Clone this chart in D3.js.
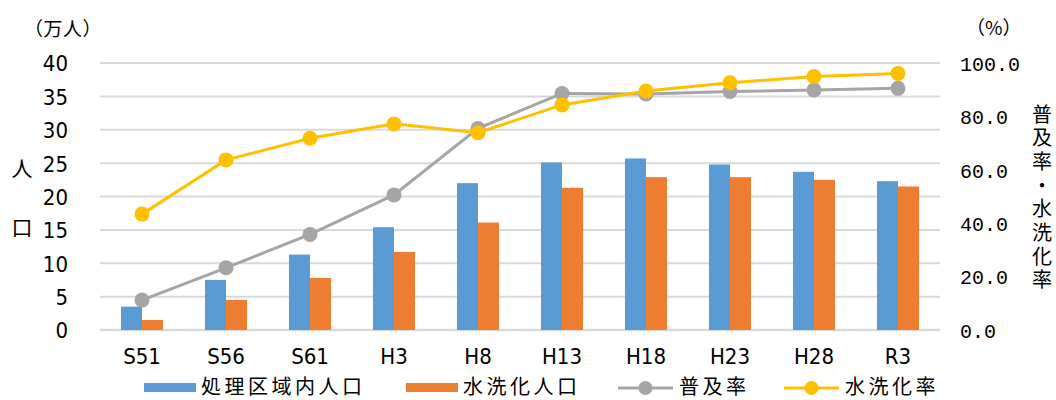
<!DOCTYPE html>
<html>
<head>
<meta charset="utf-8">
<script src="https://cdn.jsdelivr.net/npm/d3@7"></script>
<style>
  body { margin: 0; background: #fff; }
  text { fill: #000; }
  .num { font-family: "Liberation Sans Narrow", "DejaVu Sans Condensed", sans-serif; font-size: 22px; }
  .mono { font-family: "Liberation Mono", "DejaVu Sans Mono", monospace; font-size: 20px; }
  .jp { font-family: "Noto Sans CJK JP", sans-serif; }
</style>
</head>
<body>
<script>
var years = ['S51', 'S56', 'S61', 'H3', 'H8', 'H13', 'H18', 'H23', 'H28', 'R3'];
var shoriPop = [3.5, 7.5, 11.3, 15.4, 22.0, 25.1, 25.7, 24.8, 23.7, 22.3];
var suisenPop = [1.5, 4.5, 7.8, 11.7, 16.1, 21.3, 22.9, 22.9, 22.5, 21.5];
var fukyuRate = [11.2, 23.3, 35.8, 50.6, 75.5, 88.6, 88.4, 89.3, 89.9, 90.5];
var suisenRate = [43.4, 63.7, 71.8, 77.2, 73.9, 84.3, 89.5, 92.6, 94.9, 96.1];
var leftTicks = [0, 5, 10, 15, 20, 25, 30, 35, 40];
var rightTicks = [0, 20, 40, 60, 80, 100];
var barNames = ['処理区域内人口', '水洗化人口'];
var lineNames = ['普及率', '水洗化率'];

var colors = { blue: '#5B9BD5', orange: '#ED7D31', gray: '#A5A5A5', yellow: '#FFC000' };

var W = 1056, H = 400;
var plotLeft = 100, plotRight = 940, plotTop = 63, plotBottom = 330;

var svg = d3.select('body').append('svg')
    .attr('width', W)
    .attr('height', H);

var xScale = d3.scaleBand()
    .domain(years)
    .range([plotLeft, plotRight])
    .paddingInner(0.5)
    .paddingOuter(0.25);

var subScale = d3.scaleBand()
    .domain([0, 1])
    .range([0, xScale.bandwidth()]);

var yLeft = d3.scaleLinear().domain([0, 40]).range([plotBottom, plotTop]);
var yRight = d3.scaleLinear().domain([0, 100]).range([plotBottom, plotTop]);

// gridlines
svg.append('g')
    .selectAll('line')
    .data(leftTicks)
    .enter()
    .append('line')
    .attr('x1', plotLeft)
    .attr('x2', plotRight)
    .attr('y1', function (d) { return yLeft(d); })
    .attr('y2', function (d) { return yLeft(d); })
    .attr('stroke', '#D9D9D9')
    .attr('stroke-width', function (d) { return d === 0 ? 2.5 : 2; });

// left axis
var yAxisL = d3.axisLeft(yLeft).tickValues(leftTicks).tickSize(0).tickPadding(0);
var gL = svg.append('g')
    .attr('transform', 'translate(68,0)')
    .call(yAxisL);
gL.select('.domain').remove();
gL.selectAll('text').attr('class', 'num').attr('dy', '0.36em');

// right axis
var yAxisR = d3.axisRight(yRight).tickValues(rightTicks).tickSize(0).tickPadding(0)
    .tickFormat(d3.format('.1f'));
var gR = svg.append('g')
    .attr('transform', 'translate(960,0)')
    .call(yAxisR);
gR.select('.domain').remove();
gR.selectAll('text').attr('class', 'mono').attr('dy', '0.36em');

// x axis labels
var xAxis = d3.axisBottom(xScale).tickSize(0).tickPadding(0);
var gX = svg.append('g')
    .attr('transform', 'translate(0,' + plotBottom + ')')
    .call(xAxis);
gX.select('.domain').remove();
gX.selectAll('text').attr('class', 'num').attr('y', 34).attr('dy', '0');

// bars
var barSeries = [shoriPop, suisenPop];
var barColors = [colors.blue, colors.orange];
barSeries.forEach(function (series, s) {
    svg.append('g')
        .selectAll('rect')
        .data(series)
        .enter()
        .append('rect')
        .attr('x', function (d, i) { return xScale(years[i]) + subScale(s); })
        .attr('y', function (d) { return yLeft(d); })
        .attr('width', subScale.bandwidth())
        .attr('height', function (d) { return yLeft(0) - yLeft(d); })
        .attr('fill', barColors[s]);
});

// lines
var lineSeries = [fukyuRate, suisenRate];
var lineColors = [colors.gray, colors.yellow];
var line = d3.line()
    .x(function (d, i) { return xScale(years[i]) + xScale.bandwidth() / 2; })
    .y(function (d) { return yRight(d); });

lineSeries.forEach(function (series, s) {
    svg.append('path')
        .datum(series)
        .attr('d', line)
        .attr('fill', 'none')
        .attr('stroke', lineColors[s])
        .attr('stroke-width', 3);
    svg.append('g')
        .selectAll('circle')
        .data(series)
        .enter()
        .append('circle')
        .attr('cx', function (d, i) { return xScale(years[i]) + xScale.bandwidth() / 2; })
        .attr('cy', function (d) { return yRight(d); })
        .attr('r', 7.5)
        .attr('fill', lineColors[s]);
});

// axis titles
svg.append('text').attr('class', 'jp').attr('font-size', 19)
    .attr('x', 24).attr('y', 36).attr('letter-spacing', 0.5).text('（万人）');
svg.append('text').attr('class', 'jp').attr('font-size', 19)
    .attr('x', 966).attr('y', 35).text('（%）');
['人', '口'].forEach(function (c, i) {
    svg.append('text').attr('class', 'jp').attr('font-size', 21)
        .attr('x', 22).attr('y', 169 + i * 59).attr('dy', '0.35em')
        .attr('text-anchor', 'middle').text(c);
});
svg.append('text').attr('class', 'jp').attr('font-size', 20)
    .attr('x', 1042).attr('y', 104)
    .style('writing-mode', 'vertical-rl')
    .style('text-orientation', 'upright')
    .attr('letter-spacing', 3.7)
    .text('普及率・水洗化率');

// legend
var legY = 387;
var legend = svg.append('g');
var barLegX = [144, 406];
barNames.forEach(function (name, i) {
    legend.append('rect')
        .attr('x', barLegX[i]).attr('y', legY - 4)
        .attr('width', 52).attr('height', 9)
        .attr('fill', barColors[i]);
    legend.append('text').attr('class', 'jp').attr('font-size', 20)
        .attr('x', barLegX[i] + 57).attr('y', legY).attr('dy', '0.35em')
        .attr('letter-spacing', 3.5)
        .text(name);
});
var lineLegX = [618, 784];
lineNames.forEach(function (name, i) {
    legend.append('line')
        .attr('x1', lineLegX[i]).attr('x2', lineLegX[i] + 55)
        .attr('y1', legY + 1).attr('y2', legY + 1)
        .attr('stroke', lineColors[i]).attr('stroke-width', 3);
    legend.append('circle')
        .attr('cx', lineLegX[i] + 27.5).attr('cy', legY + 1).attr('r', 7)
        .attr('fill', lineColors[i]);
    legend.append('text').attr('class', 'jp').attr('font-size', 20)
        .attr('x', lineLegX[i] + 61).attr('y', legY).attr('dy', '0.35em')
        .attr('letter-spacing', 3.5)
        .text(name);
});
</script>
</body>
</html>
